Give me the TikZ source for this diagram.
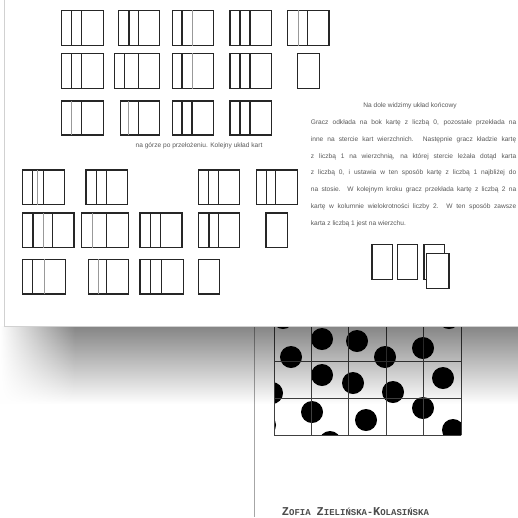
\documentclass[tikz,border=0pt]{standalone}
\usepackage{fontspec}
\newfontfamily\notefont{Liberation Sans}
\newfontfamily\authfont{Liberation Mono}
\usetikzlibrary{fadings}

\tikzset{
  dk/.style={draw=black!85, line width=1.1pt},
  pl/.style={draw=black!40, line width=0.8pt},
  note/.style={font=\notefont\fontsize{6.6}{16.8}\selectfont, text=black!65, inner sep=0pt},
  gridline/.style={draw=black!75, line width=0.9pt},
}

% one card: x, y, width, height, style of its left edge
\newcommand{\pcard}[5]{%
  \fill[white] (#1,#2) rectangle ++(#3,#4);
  \draw[dk, line cap=rect] (#1,#2) -- ++(#3,0) -- ++(0,#4) -- ++(-#3,0);
  \draw[#5, line cap=rect] (#1,#2) -- ++(0,#4);
}
\newcommand{\capw}[2]{{\fontsize{12}{12}\selectfont #1}{\fontsize{9}{9}\selectfont #2}}

\begin{document}
\begin{tikzpicture}[x=1pt, y=-1pt]
  \useasboundingbox[fill=white] (0,0) rectangle (518,517);
  \def\cw{21.5}

  % lower page
  \draw[black!35, line width=1.4pt] (254.5,300) -- (254.5,517);
  \begin{scope}
    \clip (274,290) rectangle (461,435);
    \foreach \x/\y in {283/318, 322/339, 357/341, 291/357, 385/357, 423/348, 449/318,
                       322/375, 353/383, 272/393, 393/392, 443/378,
                       312/412, 366/420, 423/408, 330/442, 453/430, 265/425}
      \fill (\x,\y) circle (11pt);
  \end{scope}
  \foreach \x in {274,311.4,348.8,386.2,423.6,461}
    \draw[gridline] (\x,290) -- (\x,435);
  \foreach \y in {324,361,398,435}
    \draw[gridline] (274,\y) -- (461,\y);
  \node[anchor=base west, font=\authfont\bfseries, text=black!70, inner sep=0pt] (author)
    at (281.7,515.5) {\capw{Z}{OFIA} \capw{Z}{IELIŃSKA}-\capw{K}{OLASIŃSKA}};

  % shadow of the upper page
  \fill[black, fill opacity=0.48, path fading=south] (0,326.5) rectangle (518,404);
  \fill[white, path fading=east] (0,326.5) rectangle (75,404);

  % upper page
  \fill[white] (4.5,-2) rectangle (520,326.5);
  \draw[black!18, line width=0.8pt] (4.5,-2) -- (4.5,326.5) -- (520,326.5);

  \def\y{10.7}
  \foreach \x/\s in {61.7/dk,71.7/dk,81.7/dk, 118.3/dk,129/dk,138.3/dk, 172.3/dk,182/dk,192.2/pl,
                     230/dk,240/dk,250/dk, 287.7/dk,298.3/pl,307.5/dk}
    {\pcard{\x}{\y}{\cw}{35}{\s}}
  \def\y{53.3}
  \foreach \x/\s in {61.7/dk,71.7/dk,81.7/dk, 114.3/dk,124.5/dk,138.3/dk, 172.3/dk,182/dk,192/pl,
                     230/dk,240/dk,250/dk, 297.7/dk}
    {\pcard{\x}{\y}{\cw}{35}{\s}}
  \def\y{101}
  \foreach \x/\s in {61.7/dk,71.7/pl,81.7/dk, 120.3/dk,128.5/pl,138.3/dk, 172.3/dk,182/dk,192/dk,
                     230/dk,240/dk,250/dk}
    {\pcard{\x}{\y}{\cw}{34}{\s}}
  \def\y{170}
  \foreach \x/\s in {22.5/dk,32.5/dk,37.8/pl,43.3/dk, 86/dk,96.7/dk,106.3/dk, 198.3/dk,208.7/dk,218.3/dk,
                     256.3/dk,266.7/dk,275.7/dk}
    {\pcard{\x}{\y}{\cw}{34.5}{\s}}
  \def\y{213}
  \foreach \x/\s in {22.5/dk,33/dk,43.3/pl,52.5/dk, 81.7/dk,92.7/pl,106.7/dk, 140/dk,150.5/dk,160.5/dk,
                     198.3/dk,209/dk,218.3/dk, 266/dk}
    {\pcard{\x}{\y}{\cw}{34.5}{\s}}
  \def\y{259.5}
  \foreach \x/\s in {22.5/dk,32.5/dk,44/pl, 88.3/dk,98.8/pl,106.7/dk, 140/dk,150.5/dk,161.7/dk, 198.3/dk}
    {\pcard{\x}{\y}{\cw}{34.5}{\s}}

  % final layout
  \pcard{372}{244.5}{20.5}{35}{dk}
  \pcard{397.3}{244.5}{20.5}{35}{dk}
  \pcard{424}{244.5}{20.5}{35}{dk}
  \pcard{426.5}{253.3}{22.5}{35}{dk}

  \node[note] (caption) at (199,146) {na górze po przełożeniu. Kolejny układ kart};
  \node[note] (heading) at (410,106) {Na dole widzimy układ końcowy};
  \node[note, anchor=north west, text width=205.3pt, align=justify] (rules) at (310.7,119.5)
    {Gracz odkłada na bok kartę z liczbą 0, pozostałe przekłada na\linebreak
     inne na stercie kart wierzchnich. Następnie gracz kładzie kartę\linebreak
     z liczbą 1 na wierzchnią, na której stercie leżała dotąd karta\linebreak
     z liczbą 0, i ustawia w ten sposób kartę z liczbą 1 najbliżej do\linebreak
     na stosie. W kolejnym kroku gracz przekłada kartę z liczbą 2 na\linebreak
     kartę w kolumnie wielokrotności liczby 2. W ten sposób zawsze\linebreak
     karta z liczbą 1 jest na wierzchu.};
\end{tikzpicture}
\end{document}
